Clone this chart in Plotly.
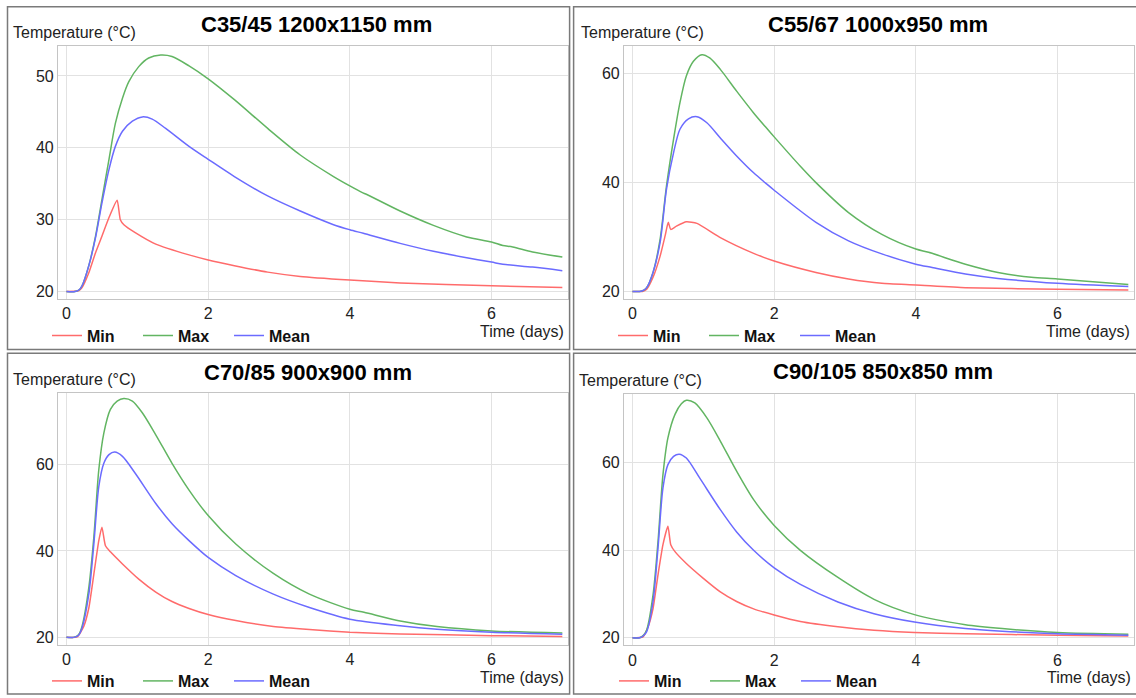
import plotly.graph_objects as go

W, H = 1136, 698

titles = ["C35/45 1200x1150 mm", "C55/67 1000x950 mm", "C70/85 900x900 mm", "C90/105 850x850 mm"]
series_names = ["Min", "Max", "Mean"]
colors = {"Min": "#ff6b6b", "Max": "#62b562", "Mean": "#6b6bff"}
x_ticks = [0, 2, 4, 6]
y_ticks_p1 = [20, 30, 40, 50]
y_ticks_p234 = [20, 40, 60]

# Panel 1: C35/45
p1_min_t = [0, 0.17, 0.22, 0.315, 0.41, 0.5, 0.6, 0.715, 0.76, 0.81, 0.97, 1.26, 1.73, 2.0, 2.37, 2.84, 3.3, 4.0, 4.71, 6.0, 7.0]
p1_min_v = [20, 20.1, 20.55, 22.6, 25.4, 27.7, 30.3, 32.7, 30.0, 29.3, 28.2, 26.6, 25.1, 24.4, 23.6, 22.7, 22.1, 21.6, 21.2, 20.8, 20.55]
p1_max_t = [0, 0.12, 0.18, 0.22, 0.315, 0.41, 0.5, 0.6, 0.69, 0.79, 0.88, 1.02, 1.16, 1.33, 1.49, 1.73, 2.0, 2.37, 2.84, 3.3, 3.77, 4.0, 4.17, 4.24, 4.71, 5.18, 5.65, 6.0, 6.16, 6.3, 6.58, 7.0]
p1_max_v = [20, 20, 20.25, 20.8, 23.6, 27.7, 32.8, 38.4, 43.4, 46.9, 49.2, 51.3, 52.5, 52.9, 52.7, 51.4, 49.6, 46.7, 42.7, 39.0, 36.0, 34.7, 33.8, 33.5, 31.2, 29.2, 27.6, 26.9, 26.4, 26.2, 25.5, 24.8]
p1_mean_t = [0, 0.12, 0.18, 0.22, 0.315, 0.41, 0.5, 0.6, 0.69, 0.79, 0.93, 1.07, 1.21, 1.4, 1.73, 2.0, 2.37, 2.84, 3.3, 3.77, 4.0, 4.19, 4.71, 5.18, 5.65, 6.0, 6.16, 6.58, 7.0]
p1_mean_v = [20, 20, 20.25, 20.8, 23.6, 27.5, 32.3, 37.0, 40.2, 42.3, 43.7, 44.3, 44.0, 42.7, 40.2, 38.4, 36.0, 33.3, 31.2, 29.3, 28.6, 28.1, 26.7, 25.6, 24.7, 24.1, 23.8, 23.4, 22.9]

# Panel 2: C55/67
p2_min_t = [0, 0.15, 0.2, 0.29, 0.39, 0.46, 0.505, 0.54, 0.62, 0.76, 0.91, 1.24, 1.71, 2.0, 2.59, 3.05, 3.52, 4.0, 4.7, 6.0, 7.0]
p2_min_v = [20, 20.05, 20.4, 22.6, 26.5, 30.2, 32.7, 31.4, 32.0, 32.8, 32.5, 29.9, 27.0, 25.6, 23.5, 22.3, 21.5, 21.2, 20.7, 20.4, 20.25]
p2_max_t = [0, 0.1, 0.16, 0.2, 0.29, 0.39, 0.48, 0.58, 0.67, 0.76, 0.86, 0.98, 1.09, 1.24, 1.47, 1.71, 1.88, 2.0, 2.37, 2.59, 3.05, 3.52, 4.0, 4.18, 4.7, 5.16, 5.63, 6.0, 7.0]
p2_max_v = [20, 20, 20.25, 20.7, 23.5, 29.6, 39.4, 48.0, 54.7, 59.6, 62.3, 63.5, 62.9, 60.8, 56.8, 52.8, 50.2, 48.4, 43.0, 40.0, 34.5, 30.5, 27.8, 27.2, 25.0, 23.5, 22.6, 22.3, 21.3]
p2_mean_t = [0, 0.1, 0.16, 0.2, 0.29, 0.39, 0.48, 0.58, 0.67, 0.79, 0.91, 1.05, 1.24, 1.47, 1.71, 1.88, 2.0, 2.59, 3.05, 3.52, 4.0, 4.23, 4.7, 5.16, 6.0, 7.0]
p2_mean_v = [20, 20, 20.25, 20.7, 23.5, 29.0, 38.8, 45.5, 49.8, 51.7, 52.1, 51.0, 48.2, 44.9, 41.8, 39.9, 38.6, 32.7, 29.3, 26.9, 25.0, 24.4, 23.2, 22.4, 21.5, 20.9]

# Panel 3: C70/85
p3_min_t = [0, 0.15, 0.245, 0.315, 0.386, 0.456, 0.5, 0.55, 0.62, 0.79, 1.02, 1.26, 1.49, 1.73, 2.0, 2.39, 2.92, 3.43, 4.0, 4.71, 6.0, 7.0]
p3_min_v = [20, 20.1, 22.6, 26.8, 34.6, 42.4, 45.5, 41.2, 39.8, 37.0, 33.5, 30.5, 28.3, 26.7, 25.3, 23.9, 22.5, 21.8, 21.2, 20.8, 20.4, 20.2]
p3_max_t = [0, 0.1, 0.17, 0.22, 0.315, 0.386, 0.456, 0.527, 0.62, 0.715, 0.81, 0.93, 1.07, 1.26, 1.49, 1.73, 2.0, 2.39, 2.92, 3.43, 4.0, 4.2, 4.71, 5.23, 6.0, 7.0]
p3_max_v = [20, 20, 20.6, 22.6, 31.5, 43.2, 58.8, 67.3, 72.8, 74.7, 75.3, 74.7, 72.0, 66.9, 60.3, 54.1, 48.2, 41.6, 34.8, 30.0, 26.5, 25.8, 23.8, 22.5, 21.5, 21.0]
p3_mean_t = [0, 0.1, 0.17, 0.22, 0.315, 0.386, 0.456, 0.527, 0.6, 0.68, 0.79, 0.97, 1.26, 1.49, 1.73, 2.0, 2.39, 2.92, 3.43, 4.0, 4.71, 5.23, 6.0, 7.0]
p3_mean_v = [20, 20, 20.5, 22.2, 30.0, 41.6, 54.9, 60.3, 62.3, 62.9, 61.9, 58.0, 51.0, 46.3, 42.4, 38.5, 34.3, 30.0, 26.9, 24.2, 22.7, 21.9, 21.2, 20.7]

# Panel 4: C90/105
p4_min_t = [0, 0.15, 0.22, 0.29, 0.36, 0.43, 0.5, 0.54, 0.6, 0.76, 1.0, 1.24, 1.47, 1.71, 2.0, 2.37, 2.9, 3.41, 3.98, 4.7, 6.0, 7.0]
p4_min_v = [20, 20.2, 22.5, 26.7, 34.4, 41.3, 45.5, 41.3, 39.7, 37.0, 33.6, 30.5, 28.3, 26.6, 25.2, 23.7, 22.5, 21.7, 21.2, 20.9, 20.6, 20.4]
p4_max_t = [0, 0.1, 0.15, 0.2, 0.29, 0.36, 0.43, 0.5, 0.6, 0.69, 0.76, 0.88, 1.05, 1.24, 1.47, 1.71, 2.0, 2.37, 2.9, 3.41, 3.98, 4.7, 5.22, 6.0, 7.0]
p4_max_v = [20, 20, 20.5, 21.8, 29.8, 42.0, 57.3, 65.7, 71.1, 73.5, 74.3, 73.7, 70.3, 65.0, 58.1, 51.6, 45.7, 40.0, 33.8, 28.8, 25.3, 23.0, 22.1, 21.2, 20.8]
p4_mean_t = [0, 0.1, 0.15, 0.2, 0.29, 0.36, 0.43, 0.5, 0.58, 0.66, 0.76, 0.95, 1.24, 1.47, 1.71, 2.0, 2.37, 2.9, 3.41, 3.98, 4.7, 5.22, 6.0, 7.0]
p4_mean_v = [20, 20, 20.4, 21.4, 28.3, 40.5, 54.3, 59.6, 61.5, 62.0, 61.1, 56.5, 49.3, 44.2, 40.0, 36.0, 32.2, 28.2, 25.5, 23.6, 22.1, 21.5, 20.9, 20.6]

panels = [
    {"Min": (p1_min_t, p1_min_v), "Max": (p1_max_t, p1_max_v), "Mean": (p1_mean_t, p1_mean_v)},
    {"Min": (p2_min_t, p2_min_v), "Max": (p2_max_t, p2_max_v), "Mean": (p2_mean_t, p2_mean_v)},
    {"Min": (p3_min_t, p3_min_v), "Max": (p3_max_t, p3_max_v), "Mean": (p3_mean_t, p3_mean_v)},
    {"Min": (p4_min_t, p4_min_v), "Max": (p4_max_t, p4_max_v), "Mean": (p4_mean_t, p4_mean_v)},
]

# ---- layout geometry (pixels) ----
def px(x):
    return x / W

def py(y):
    return 1 - y / H

plot_boxes = [  # left, right, top, bottom
    (58, 568, 46.7, 300),
    (624, 1134, 46.7, 300),
    (58, 568, 395, 647.5),
    (624, 1134, 395.5, 648),
]
y_ranges = [[19.0, 54.1], [18.67, 65.0], [18.3, 76.5], [18.3, 75.8]]
x_range = [-0.12, 7.08]
y_tick_sets = [y_ticks_p1, y_ticks_p234, y_ticks_p234, y_ticks_p234]
panel_frames = [(7.5, 6.7, 569.6, 351), (573.6, 6.7, 1140, 351),
                (7.5, 354.7, 569.6, 697), (573.6, 354.7, 1140, 697)]
title_pos = [(316, 25), (878, 25), (308, 374), (883, 373)]
ylab_pos = [(11, 33), (579, 33), (11, 381), (577, 382)]
xlab_pos = [(566, 333), (1132, 333), (566, 680), (1133, 680)]
legend_pos = [(47, 337), (613, 337), (47, 684), (614, 684)]

FONT = "Liberation Sans, Arial, sans-serif"

fig = go.Figure()
layout = dict(
    width=W, height=H, margin=dict(l=0, r=0, t=0, b=0),
    paper_bgcolor="white", plot_bgcolor="white",
    font=dict(family=FONT, size=15, color="#222"),
    annotations=[], shapes=[],
)

for i, panel in enumerate(panels):
    k = i + 1
    xa = "x" if k == 1 else f"x{k}"
    ya = "y" if k == 1 else f"y{k}"
    lg = "legend" if k == 1 else f"legend{k}"
    for name in series_names:
        t, v = panel[name]
        fig.add_trace(go.Scatter(
            x=t, y=v, mode="lines", name=name,
            line=dict(color=colors[name], width=1.5, shape="spline",
                      smoothing=0.5 if name == "Min" else 0.8),
            xaxis=xa, yaxis=ya, legend=lg, showlegend=True,
        ))
    l, r, t_, b = plot_boxes[i]
    axis_common = dict(showline=True, mirror=True, linecolor="#c4c4c4", linewidth=1.2,
                       showgrid=True, gridcolor="#e2e2e2", gridwidth=1, zeroline=False,
                       ticks="", tickfont=dict(size=16, color="#222", family=FONT))
    layout["xaxis" if k == 1 else f"xaxis{k}"] = dict(
        domain=[px(l), px(r)], range=x_range, tickvals=x_ticks,
        anchor=ya, **axis_common)
    layout["yaxis" if k == 1 else f"yaxis{k}"] = dict(
        domain=[py(b), py(t_)], range=y_ranges[i], tickvals=y_tick_sets[i],
        anchor=xa, **axis_common)
    lx, ly = legend_pos[i]
    layout[lg] = dict(
        x=px(lx), y=py(ly), xanchor="left", yanchor="middle",
        orientation="h", bgcolor="rgba(0,0,0,0)", borderwidth=0,
        font=dict(size=16, color="#111", family=FONT, weight="bold"),
        entrywidth=46, entrywidthmode="pixels", itemwidth=30,
    )
    fx0, fy0, fx1, fy1 = panel_frames[i]
    layout["shapes"].append(dict(type="rect", xref="paper", yref="paper",
                                 x0=px(fx0), x1=px(fx1), y0=py(fy1), y1=py(fy0),
                                 line=dict(color="#7a7a7a", width=1.5)))
    tx, ty = title_pos[i]
    layout["annotations"].append(dict(text=f"<b>{titles[i]}</b>", xref="paper", yref="paper",
                                      x=px(tx), y=py(ty), xanchor="center", yanchor="middle",
                                      showarrow=False, font=dict(size=22, color="#000", family=FONT)))
    ax_, ay_ = ylab_pos[i]
    layout["annotations"].append(dict(text="Temperature (°C)", xref="paper", yref="paper",
                                      x=px(ax_), y=py(ay_), xanchor="left", yanchor="middle",
                                      showarrow=False, font=dict(size=16, color="#222", family=FONT)))
    bx, by = xlab_pos[i]
    layout["annotations"].append(dict(text="Time (days)", xref="paper", yref="paper",
                                      x=px(bx), y=py(by), xanchor="right", yanchor="middle",
                                      showarrow=False, font=dict(size=16, color="#222", family=FONT)))

fig.update_layout(**layout)
fig.write_html("out.html")
